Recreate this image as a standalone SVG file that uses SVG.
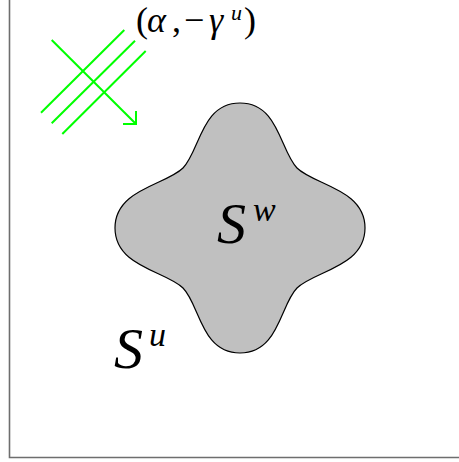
<svg xmlns="http://www.w3.org/2000/svg" width="459" height="462" viewBox="0 0 459 462">
  <style>
    .frame { fill: none; stroke: #6e6e6e; stroke-width: 1.6; }
    .green { fill: none; stroke: #00ff00; stroke-width: 2; stroke-linecap: butt; }
    .blob { fill: #c0c0c0; stroke: #000; stroke-width: 1.2; }
    .math { font-family: "Liberation Serif", "DejaVu Serif", serif; fill: #000; }
    .it { font-style: italic; }
  </style>
  <rect width="459" height="462" fill="#fff"/>
  <g id="frame">
    <polyline class="frame" points="9.5,0 9.5,457.5 459,457.5"/>
  </g>
  <g id="direction">
    <line class="green" x1="41" y1="112.7" x2="124.3" y2="30"/>
    <line class="green" x1="51.7" y1="123.3" x2="135" y2="40.7"/>
    <line class="green" x1="62.3" y1="134" x2="145.7" y2="51"/>
    <line class="green" x1="51.7" y1="40" x2="136" y2="124"/>
    <polyline class="green" points="123,124 136,124 136,111"/>
  </g>
  <g id="label-direction">
    <text class="math" y="32" font-size="36"><tspan x="136">(</tspan><tspan class="it" x="147">α</tspan><tspan x="172">,</tspan><tspan x="184">−</tspan><tspan class="it" x="209">γ</tspan><tspan class="it" x="231" y="20" font-size="22">u</tspan><tspan x="244" y="32">)</tspan></text>
  </g>
  <g id="Sw">
    <path class="blob" d="M183,168 C200,151 201,103 240,103 C279,103 280,151 297,168 C314,185 365,189 365,228 C365,267 314,271 297,288 C280,305 279,353 240,353 C201,353 200,305 183,288 C166,271 115,267 115,228 C115,189 166,185 183,168 Z"/>
    <text class="math it" x="217" y="243" font-size="58">S</text>
    <text class="math it" x="253" y="221" font-size="34">w</text>
  </g>
  <g id="Su">
    <text class="math it" x="114" y="368" font-size="58">S</text>
    <text class="math it" x="149" y="346" font-size="34">u</text>
  </g>
</svg>
